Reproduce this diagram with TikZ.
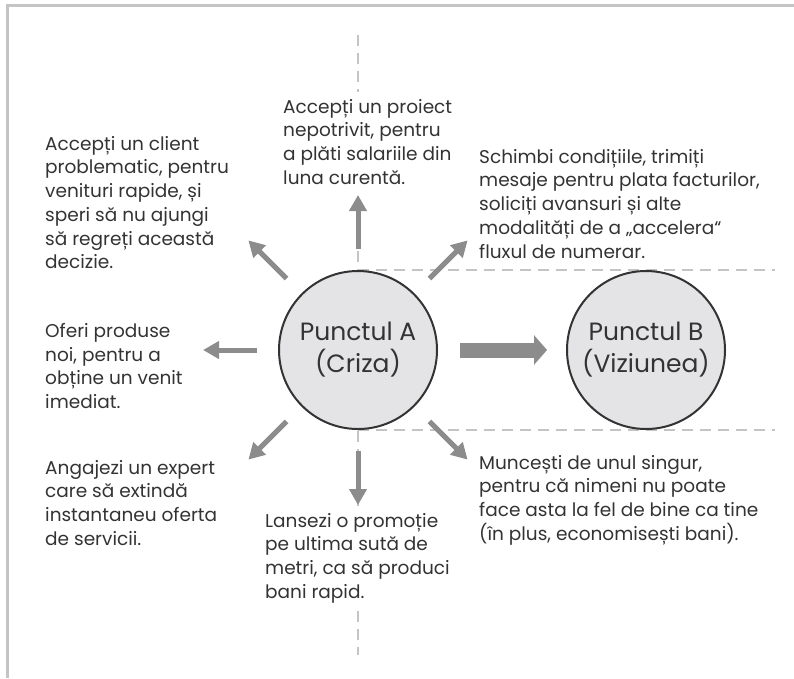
\documentclass[tikz,border=0pt]{standalone}
\usepackage{fontspec}
\setmainfont{Poppins}
\usetikzlibrary{arrows.meta,backgrounds}

\definecolor{inkgray}{HTML}{333333}
\definecolor{arrowgray}{HTML}{8C8C8C}
\definecolor{guidegray}{HTML}{C4C4C4}
\definecolor{discgray}{HTML}{E4E4E6}

\tikzset{
  point/.style={circle, draw=inkgray, line width=2pt, fill=discgray,
    minimum size=158pt, inner sep=0pt, align=center, text=inkgray,
    font=\fontsize{25}{32}\selectfont},
  note/.style={anchor=north west, align=left, inner sep=0pt, text=inkgray,
    font=\fontsize{18.5}{23.7}\selectfont},
  cover/.style={fill=white, inner ysep=7pt},
  ray/.style={arrowgray, line width=5pt, -{Triangle[length=16pt,width=17pt]}},
  bigray/.style={arrowgray, line width=15pt, -{Triangle[length=13pt,width=29pt]}},
  guide/.style={guidegray, line width=2pt, dash pattern=on 11pt off 7pt},
}

\begin{document}
\begin{tikzpicture}[x=1pt,y=-1pt]

    % Fix the page to the size of the picture
    \useasboundingbox (0,0) rectangle (794,678);

    % Frame on the top and left side
    \draw[guidegray, line width=3pt] (7,678) -- (7,5) -- (794,5);

    % The two points
    \node[point] (A) at (358,350) {Punctul A\\(Criza)};
    \node[point] (B) at (646,350) {Punctul B\\(Viziunea)};

    % The options around point A
    \node[note] (upleft) at (45,136) {Accepți un client\\problematic, pentru\\venituri rapide, și\\speri să nu ajungi\\să regreți această\\decizie.};
    \node[note, cover] (up) at (283,92) {Accepți un proiect\\nepotrivit, pentru\\a plăti salariile din\\luna curentă.};
    \node[note] (upright) at (479,149) {Schimbi condițiile, trimiți\\mesaje pentru plata facturilor,\\soliciți avansuri și alte\\modalități de a „accelera“\\fluxul de numerar.};
    \node[note] (left) at (45,323) {Oferi produse\\noi, pentru a\\obține un venit\\imediat.};
    \node[note] (downleft) at (45,460) {Angajezi un expert\\care să extindă\\instantaneu oferta\\de servicii.};
    \node[note, cover] (down) at (265,506) {Lansezi o promoție\\pe ultima sută de\\metri, ca să produci\\bani rapid.};
    \node[note] (downright) at (479,455) {Muncești de unul singur,\\pentru că nimeni nu poate\\face asta la fel de bine ca tine\\(în plus, economisești bani).};

    % Dashed guide lines, behind everything
    \begin{scope}[on background layer]
        \draw[guide] (358,35) -- (358,655);
        \draw[guide] (A.north) -- ++(417,0);
        \draw[guide] (A.south) -- ++(417,0);
    \end{scope}

    % --- ARROWS OUT OF POINT A ---
    \foreach \ang in {45,90,...,315} {
        \path (A.center) ++(\ang:155) coordinate (tip\ang);
        \draw[ray, shorten <=21pt] (A) -- (tip\ang);
    }

    % Main arrow from A to B
    \draw[bigray, shorten <=22pt, shorten >=19pt] (A) -- (B);

\end{tikzpicture}
\end{document}
